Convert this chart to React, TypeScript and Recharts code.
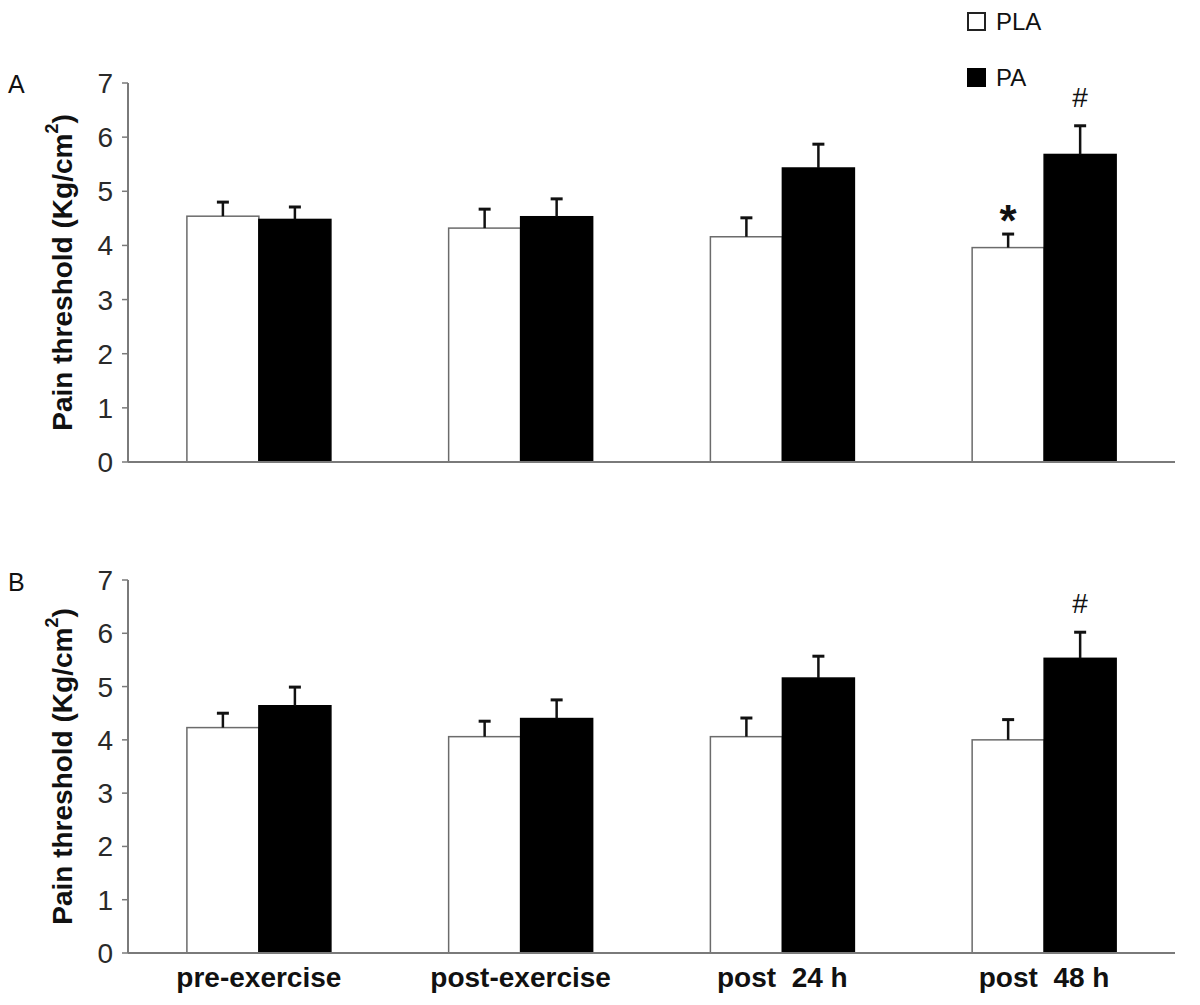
import React from 'react';
import { BarChart, Bar, XAxis, YAxis, Label } from 'recharts';

const FONT = 'Arial, "Liberation Sans", sans-serif';
const AXIS = '#7a7a7a';

// categories and tick values
const categories = ['pre-exercise', 'post-exercise', 'post  24 h', 'post  48 h'];
const yTicks = [0, 1, 2, 3, 4, 5, 6, 7];
const boundaryTicks = [0, 1, 2, 3, 4];

// panel A
const plaA = [4.54, 4.32, 4.16, 3.96];
const plaErrA = [0.26, 0.35, 0.35, 0.25];
const paA = [4.48, 4.53, 5.43, 5.68];
const paErrA = [0.23, 0.33, 0.44, 0.53];
const plaMarkA = ['', '', '', '*'];
const paMarkA = ['', '', '', '#'];

// panel B
const plaB = [4.23, 4.06, 4.06, 4.0];
const plaErrB = [0.27, 0.29, 0.35, 0.38];
const paB = [4.64, 4.4, 5.16, 5.53];
const paErrB = [0.35, 0.35, 0.41, 0.49];
const plaMarkB = ['', '', '', ''];
const paMarkB = ['', '', '', '#'];

const buildRows = (
  pla: number[],
  plaErr: number[],
  pa: number[],
  paErr: number[],
  plaMark: string[],
  paMark: string[]
) =>
  categories.map((name, i) => ({
    name,
    pla: pla[i],
    plaErr: plaErr[i],
    pa: pa[i],
    paErr: paErr[i],
    plaMark: plaMark[i],
    paMark: paMark[i],
  }));

const rowsA = buildRows(plaA, plaErrA, paA, paErrA, plaMarkA, paMarkA);
const rowsB = buildRows(plaB, plaErrB, paB, paErrB, plaMarkB, paMarkB);

// bar + one-sided (upper) error bar + significance mark
const barShape = (valueKey: string, errKey: string, markKey: string, fill: string, stroke: string) =>
  (props: any) => {
    const { x, y, width, height, payload } = props;
    const v = payload[valueKey];
    const perUnit = v ? height / v : 0;
    const top = y - payload[errKey] * perUnit;
    const cx = x + width / 2;
    const mark = payload[markKey];
    return (
      <g>
        <rect x={x} y={y} width={width} height={height} fill={fill} stroke={stroke} strokeWidth={1.5} />
        <line x1={cx} y1={y} x2={cx} y2={top} stroke="#111" strokeWidth={2.5} />
        <line x1={cx - 6} y1={top} x2={cx + 6} y2={top} stroke="#111" strokeWidth={3} />
        {mark === '*' && (
          <text x={cx} y={top + 2} textAnchor="middle" fontSize={44} fontWeight="bold" fontFamily={FONT} fill="#111">
            *
          </text>
        )}
        {mark === '#' && (
          <text x={cx} y={top - 19} textAnchor="middle" fontSize={28} fontFamily={FONT} fill="#111">
            #
          </text>
        )}
      </g>
    );
  };

const YTitle = (props: any) => {
  const vb = props.viewBox || { y: 0, height: 0 };
  const cx = 62;
  const cy = vb.y + vb.height / 2;
  return (
    <text
      x={cx}
      y={cy}
      transform={`rotate(-90, ${cx}, ${cy})`}
      textAnchor="middle"
      dominantBaseline="central"
      fontSize={28}
      fontWeight="bold"
      fontFamily={FONT}
      fill="#111"
    >
      Pain threshold (Kg/cm
      <tspan dy={-10} fontSize={18}>2</tspan>
      <tspan dy={10}>)</tspan>
    </text>
  );
};

const CatTick = (props: any) => {
  const { x, y, payload } = props;
  return (
    <text
      x={x}
      y={y}
      dy={34}
      textAnchor="middle"
      fontSize={28}
      fontWeight="bold"
      fontFamily={FONT}
      fill="#111"
      style={{ whiteSpace: 'pre' }}
    >
      {payload.value}
    </text>
  );
};

type PanelProps = {
  rows: any[];
  top: number;
  height: number;
  marginTop: number;
  xAxisHeight: number;
  showLabels: boolean;
};

function Panel({ rows, top, height, marginTop, xAxisHeight, showLabels }: PanelProps) {
  return (
    <div style={{ position: 'absolute', left: 0, top }}>
      <BarChart
        width={1200}
        height={height}
        data={rows}
        margin={{ top: marginTop, right: 25, left: 0, bottom: 0 }}
        barCategoryGap="22.5%"
        barGap={0}
      >
        <XAxis
          xAxisId="bounds"
          type="number"
          domain={[0, 4]}
          ticks={boundaryTicks}
          allowDataOverflow
          axisLine={false}
          tickLine={{ stroke: AXIS, strokeWidth: 1.5 }}
          tickSize={6}
          tickFormatter={() => ''}
          height={0}
        />
        <XAxis
          xAxisId="cat"
          dataKey="name"
          axisLine={{ stroke: AXIS, strokeWidth: 2 }}
          tickLine={false}
          tickSize={0}
          tickMargin={0}
          tick={showLabels ? <CatTick /> : false}
          height={xAxisHeight}
          interval={0}
        />
        <YAxis
          domain={[0, 7]}
          ticks={yTicks}
          width={128}
          axisLine={{ stroke: AXIS, strokeWidth: 2 }}
          tickLine={{ stroke: AXIS, strokeWidth: 1.5 }}
          tickSize={6}
          tickMargin={9}
          tick={{ fontSize: 28, fill: '#2a2a2a', fontFamily: FONT }}
          allowDataOverflow
        >
          <Label content={<YTitle />} />
        </YAxis>
        <Bar
          xAxisId="cat"
          dataKey="pla"
          isAnimationActive={false}
          shape={barShape('pla', 'plaErr', 'plaMark', '#ffffff', '#6b6b6b')}
        />
        <Bar
          xAxisId="cat"
          dataKey="pa"
          isAnimationActive={false}
          shape={barShape('pa', 'paErr', 'paMark', '#000000', '#000000')}
        />
      </BarChart>
    </div>
  );
}

const textStyle: React.CSSProperties = {
  position: 'absolute',
  fontFamily: FONT,
  color: '#111',
  lineHeight: 1,
  whiteSpace: 'nowrap',
};

export default function App() {
  return (
    <div style={{ position: 'absolute', left: 0, top: 0, width: 1200, height: 1005, background: '#fff', overflow: 'hidden' }}>
      <Panel rows={rowsA} top={0} height={500} marginTop={83} xAxisHeight={38} showLabels={false} />
      <Panel rows={rowsB} top={500} height={505} marginTop={80} xAxisHeight={52} showLabels={true} />

      <div style={{ ...textStyle, left: 8, top: 72, fontSize: 25 }}>A</div>
      <div style={{ ...textStyle, left: 8, top: 570, fontSize: 25 }}>B</div>

      <div style={{ position: 'absolute', left: 967, top: 12, width: 15, height: 15, border: '2px solid #222', background: '#fff' }} />
      <div style={{ ...textStyle, left: 996, top: 10, fontSize: 24 }}>PLA</div>
      <div style={{ position: 'absolute', left: 967, top: 68, width: 19, height: 19, background: '#000' }} />
      <div style={{ ...textStyle, left: 996, top: 66, fontSize: 24 }}>PA</div>
    </div>
  );
}
